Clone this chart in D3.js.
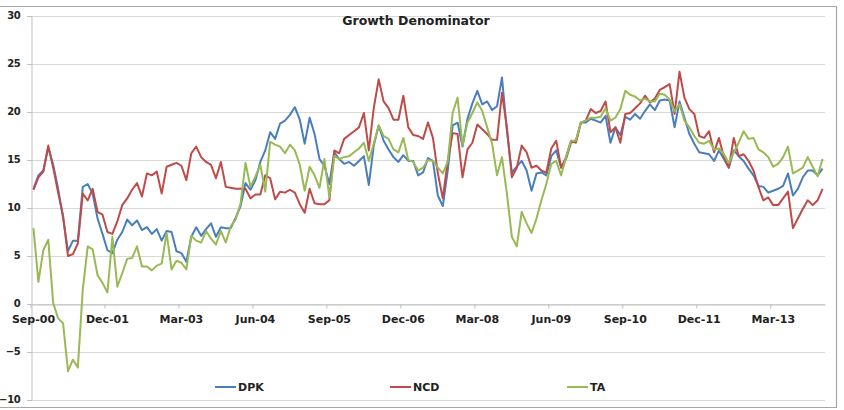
<!DOCTYPE html>
<html><head><meta charset="utf-8">
<script src="https://cdn.jsdelivr.net/npm/d3@7"></script>
<style>
html,body{margin:0;padding:0;background:#fff;}
svg{display:block;font-family:"DejaVu Sans",Verdana,sans-serif;}
</style></head>
<body>
<svg id="chart" width="844" height="410"></svg>
<script>
// ---- data ----
const startMonth = new Date(2000, 8, 1); // Sep-00
const nMonths = 161;
const tickLabels = ["Sep-00","Dec-01","Mar-03","Jun-04","Sep-05","Dec-06","Mar-08","Jun-09","Sep-10","Dec-11","Mar-13"];
const yTicks = [-10,-5,0,5,10,15,20,25,30];
const seriesNames = ["DPK","NCD","TA"];
const seriesColors = ["#4a7ebb","#be4b48","#98b954"];

const DPK = [12.0,13.4,13.9,16.3,14.5,12.0,9.0,5.5,6.6,6.6,
12.2,12.5,11.5,8.9,7.3,5.6,5.3,6.7,7.5,8.8,
8.2,8.7,7.7,8.0,7.3,7.8,6.6,7.6,7.5,5.5,
5.3,4.4,7.0,8.0,7.1,7.8,8.4,7.0,8.0,7.9,
7.9,9.0,10.2,12.6,11.9,12.9,14.8,16.0,17.9,17.2,
18.8,19.1,19.7,20.5,19.2,16.7,19.4,17.7,15.1,14.4,
12.5,15.8,15.1,14.6,14.8,14.4,14.9,15.4,12.4,16.5,
18.6,17.0,16.1,15.3,14.8,15.5,14.9,14.9,13.4,13.7,
15.2,14.9,11.3,10.2,13.9,18.6,18.9,16.4,19.3,20.9,
22.2,20.8,21.1,20.2,20.6,23.6,18.0,13.7,14.3,14.9,
13.9,11.8,13.6,13.7,13.4,15.4,16.0,14.2,15.1,16.8,
17.0,18.9,18.9,19.3,19.1,18.9,19.6,16.8,18.4,17.6,
19.5,19.2,19.8,19.3,20.1,20.8,20.2,21.2,21.3,21.2,
18.4,21.1,19.4,17.7,16.7,15.8,15.7,15.6,14.9,16.0,
15.1,14.2,16.0,15.4,14.9,14.1,13.4,12.3,12.2,11.6,
11.8,12.0,12.3,13.6,11.3,12.0,13.2,13.9,13.9,13.4,
14.1];

const NCD = [11.9,13.2,13.8,16.5,14.2,11.6,9.2,5.0,5.2,6.3,
11.5,10.8,12.0,9.6,9.3,7.5,7.3,8.6,10.3,11.0,
11.9,12.6,11.2,13.6,13.4,13.8,11.5,14.3,14.5,14.7,
14.4,12.9,15.7,16.4,15.3,14.8,14.5,13.1,14.8,12.2,
12.1,12.0,12.0,12.0,11.0,11.4,11.4,13.4,13.1,10.9,
11.7,11.6,11.9,11.6,10.4,9.5,12.0,10.5,10.4,10.4,
10.8,16.0,15.7,17.2,17.6,18.0,18.4,19.9,16.0,20.4,
23.4,21.1,20.4,19.2,19.2,21.7,18.4,17.6,17.5,17.2,
18.9,17.3,13.6,11.0,14.9,17.8,17.7,13.2,16.1,16.8,
18.7,18.2,17.7,17.1,17.1,22.0,18.4,13.2,14.2,16.5,
15.8,14.2,14.4,13.9,13.7,16.2,17.0,14.2,15.3,17.0,
16.8,18.9,19.1,20.3,19.9,20.1,21.1,17.9,18.4,16.8,
19.8,19.9,20.4,20.9,21.7,21.0,21.4,22.3,22.6,22.9,
19.8,24.2,21.5,20.3,19.8,17.5,17.3,18.0,15.8,17.3,
15.3,14.2,17.3,15.4,15.6,14.9,13.9,12.2,10.8,11.1,
10.3,10.3,11.0,11.7,7.9,8.9,9.9,10.8,10.3,10.8,
12.0];

const TA = [7.9,2.3,5.6,6.7,0.1,-1.5,-2.0,-7.0,-5.8,-6.6,
1.5,6.0,5.7,3.0,2.2,1.2,7.0,1.8,3.2,4.7,
4.8,6.0,3.9,3.9,3.5,4.0,4.2,7.4,3.6,4.5,
4.3,3.6,7.1,6.6,6.4,7.6,6.8,6.2,7.6,6.4,
8.1,8.8,10.5,14.7,12.2,13.3,14.5,11.7,16.9,16.6,
16.4,15.7,16.6,16.0,14.5,11.8,14.3,13.4,12.1,15.1,
11.1,15.4,15.1,15.3,15.4,15.8,16.2,16.8,14.9,16.7,
18.6,17.5,17.2,16.1,15.8,17.3,15.0,14.8,13.9,14.2,
15.0,14.9,14.2,13.6,14.8,19.9,21.5,16.5,18.9,19.9,
21.0,20.1,18.4,16.7,13.4,15.3,11.5,7.0,6.0,9.6,
8.4,7.4,8.9,10.8,12.5,14.6,14.9,13.4,15.3,17.0,
17.0,18.9,19.1,19.4,19.4,19.5,20.4,19.1,19.4,20.3,
22.2,21.8,21.6,21.2,21.4,21.1,21.1,21.9,21.8,21.3,
20.1,20.8,19.1,18.4,17.5,16.8,16.7,17.0,16.1,16.2,
15.6,14.7,15.8,16.8,18.0,17.2,17.3,16.1,15.8,15.3,
14.3,14.6,15.3,16.4,13.6,13.9,14.2,15.3,14.3,13.3,
15.1];

// ---- chart ----
(function () {
const fmt = d3.timeFormat("%b-%y");
const months = d3.range(nMonths).map(i => fmt(d3.timeMonth.offset(startMonth, i)));
const seriesData = [DPK, NCD, TA];

const svg = d3.select("#chart");
const pLeft = 31, pRight = 825, pTop = 16, pBottom = 400;

const x = d3.scaleBand().domain(months).range([pLeft, pRight]).padding(0);
const y = d3.scaleLinear().domain([-10, 30]).range([pBottom, pTop]);
const bw = x.bandwidth();

// outer border (left side falls just outside the picture, as in the reference)
svg.append("path")
  .attr("d", "M0,6.5 H836.5 V407.5 H0")
  .attr("fill", "none").attr("stroke", "#a6a6a6").attr("stroke-width", 1.2);

// gridlines
svg.append("g").selectAll("line").data(yTicks).join("line")
  .attr("x1", pLeft - 4).attr("x2", pRight)
  .attr("y1", d => Math.round(y(d)) + 0.5).attr("y2", d => Math.round(y(d)) + 0.5)
  .attr("stroke", "#d9d9d9").attr("stroke-width", 1);

// y axis
const yAxis = svg.append("g").attr("transform", `translate(${pLeft + 0.5},0)`)
  .call(d3.axisLeft(y).tickValues(yTicks).tickSize(4).tickPadding(7));
yAxis.select(".domain").attr("stroke", "#bfbfbf");
yAxis.selectAll(".tick line").attr("stroke", "#bfbfbf");
yAxis.selectAll("text").attr("font-size", "10px").attr("font-weight", "bold")
  .attr("dy", "0.28em").attr("letter-spacing", "-0.3px")
  .attr("fill", "#222").attr("font-family", "'DejaVu Sans', sans-serif");

// x axis at y=0
const xAxis = svg.append("g").attr("transform", `translate(0,${Math.round(y(0)) + 0.5})`)
  .call(d3.axisBottom(x).tickValues(tickLabels).tickSize(4).tickPadding(7).tickSizeOuter(0));
xAxis.select(".domain").attr("stroke", "#bfbfbf");
xAxis.selectAll(".tick line").attr("stroke", "#bfbfbf").attr("transform", `translate(${-bw / 2},0)`);
xAxis.selectAll("text").attr("font-size", "11px").attr("font-weight", "bold")
  .attr("fill", "#222").attr("font-family", "'DejaVu Sans', sans-serif");

// lines
const line = d3.line().x((d, i) => x(months[i]) + bw / 2).y(d => y(d));
svg.append("g").selectAll("path").data(seriesData).join("path")
  .attr("d", d => line(d))
  .attr("fill", "none")
  .attr("stroke", (d, i) => seriesColors[i])
  .attr("stroke-width", 2)
  .attr("stroke-linejoin", "round");

// title
svg.append("text").attr("x", 416).attr("y", 25).attr("text-anchor", "middle")
  .attr("font-size", "12.5px").attr("font-weight", "bold").attr("fill", "#222")
  .text("Growth Denominator");

// legend
const legendX = [215, 390, 567];
const lg = svg.append("g").selectAll("g").data(seriesNames).join("g")
  .attr("transform", (d, i) => `translate(${legendX[i]},387)`);
lg.append("line").attr("x1", 0).attr("x2", 21).attr("y1", 0).attr("y2", 0)
  .attr("stroke", (d, i) => seriesColors[i]).attr("stroke-width", 2);
lg.append("text").attr("x", 23).attr("y", 4).attr("font-size", "11px")
  .attr("font-weight", "bold").attr("fill", "#222").text(d => d);
})();
</script>
</body></html>
